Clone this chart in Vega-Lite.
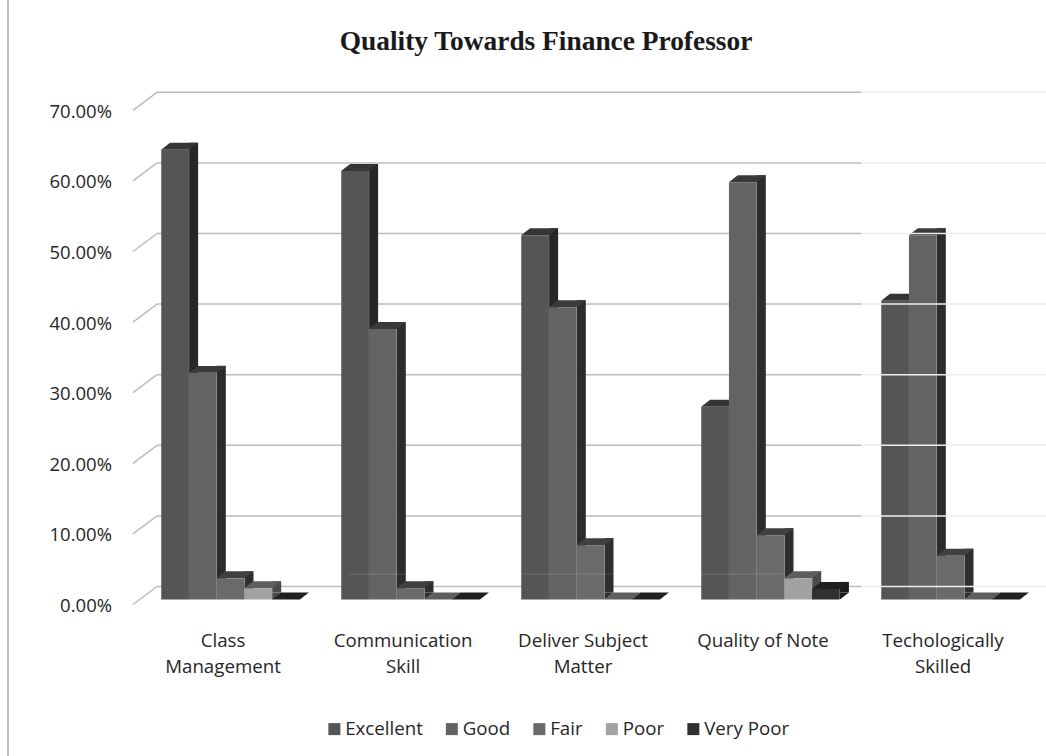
{
"$schema":"https://vega.github.io/schema/vega-lite/v6.json",
"width":900,"height":494.2,
"autosize":{"type":"none"},
"padding":{"left":140.5,"top":105.3,"right":5.5,"bottom":156.5},
"background":"white",
"title":{"text":"Quality Towards Finance Professor","font":"Liberation Serif","fontWeight":"bold","fontSize":27.4,"color":"#1a1a1a","anchor":"middle","dx":-44.5,"offset":-56},
"view":{"stroke":null},
"config":{"font":"Open Sans"},
"datasets":{
"grid":[{"v":0},{"v":10},{"v":20},{"v":30},{"v":40},{"v":50},{"v":60},{"v":70}],
"bars":[
{"c":"Class Management","s":"Excellent","value":63.7},{"c":"Class Management","s":"Good","value":32.1},{"c":"Class Management","s":"Fair","value":3.0},{"c":"Class Management","s":"Poor","value":1.6},{"c":"Class Management","s":"Very Poor","value":0},
{"c":"Communication Skill","s":"Excellent","value":60.7},{"c":"Communication Skill","s":"Good","value":38.3},{"c":"Communication Skill","s":"Fair","value":1.6},{"c":"Communication Skill","s":"Poor","value":0},{"c":"Communication Skill","s":"Very Poor","value":0},
{"c":"Deliver Subject Matter","s":"Excellent","value":51.6},{"c":"Deliver Subject Matter","s":"Good","value":41.4},{"c":"Deliver Subject Matter","s":"Fair","value":7.7},{"c":"Deliver Subject Matter","s":"Poor","value":0},{"c":"Deliver Subject Matter","s":"Very Poor","value":0},
{"c":"Quality of Note","s":"Excellent","value":27.3},{"c":"Quality of Note","s":"Good","value":59.1},{"c":"Quality of Note","s":"Fair","value":9.1},{"c":"Quality of Note","s":"Poor","value":3.0},{"c":"Quality of Note","s":"Very Poor","value":1.5},
{"c":"Techologically Skilled","s":"Excellent","value":42.3},{"c":"Techologically Skilled","s":"Good","value":51.6},{"c":"Techologically Skilled","s":"Fair","value":6.2},{"c":"Techologically Skilled","s":"Poor","value":0},{"c":"Techologically Skilled","s":"Very Poor","value":0}
]},
"resolve":{"scale":{"x":"independent"},"axis":{"x":"independent","y":"independent"}},
"layer":[
{"data":{"name":"grid"},
 "layer":[
 {"mark":{"type":"rule","color":"#bdbdbd","strokeWidth":2},
  "encoding":{"x":{"datum":-132.5,"type":"quantitative","scale":{"domain":[0,900],"nice":false,"zero":false},"axis":null},
   "y":{"datum":-22.2,"type":"quantitative","scale":{"domain":[0,70],"nice":false},"axis":null},"y2":{"datum":84.9}}},
 {"mark":{"type":"rule","color":"#bdbdbd","strokeWidth":1.5,"yOffset":-13},
  "encoding":{"x":{"datum":16.5,"type":"quantitative","scale":{"domain":[0,900],"nice":false,"zero":false},"axis":null},"x2":{"datum":721},
   "y":{"field":"v","type":"quantitative","scale":{"domain":[0,70],"nice":false},"axis":null}}},
 {"mark":{"type":"point","shape":"M-1 0.75L1 -0.75","size":576,"filled":false,"stroke":"#bdbdbd","strokeWidth":1.5,"opacity":1,"yOffset":-4},
  "encoding":{"x":{"datum":4.5,"type":"quantitative","scale":{"domain":[0,900],"nice":false,"zero":false},"axis":null},
   "y":{"field":"v","type":"quantitative","scale":{"domain":[0,70],"nice":false},"axis":null}}}
 ]},
{"data":{"name":"bars"},
 "resolve":{"scale":{"color":"independent","xOffset":"independent"},"axis":{"x":"independent","y":"independent"}},
 "layer":[
 {"mark":{"type":"rule","strokeWidth":9,"strokeCap":"butt","yOffset":-7,"y2Offset":-7},
  "encoding":{
   "x":{"field":"c","type":"nominal","sort":null,"scale":{"type":"band","paddingInner":0.2306,"paddingOuter":0.1153},"axis":null},
   "xOffset":{"field":"s","type":"nominal","sort":["Excellent","Good","Fair","Poor","Very Poor"],"scale":{"domain":["Excellent","Good","Fair","Poor","Very Poor"],"paddingInner":0,"paddingOuter":0,"range":[18.5,157]}},
   "y":{"field":"value","type":"quantitative","scale":{"domain":[0,70],"nice":false},"axis":null},
   "y2":{"datum":0},
   "color":{"field":"s","type":"nominal","legend":null,"scale":{"domain":["Excellent","Good","Fair","Poor","Very Poor"],"range":["#272727","#2c2c2c","#2e2e2e","#4a4a4a","#1b1b1b"]}}}},
 {"transform":[{"filter":"datum.value > 0"}],
  "mark":{"type":"point","shape":"M-1 0.778L-1 -0.778L1 -0.778Z","size":81,"filled":true,"opacity":1,"strokeWidth":0,"yOffset":-3.5},
  "encoding":{
   "x":{"field":"c","type":"nominal","sort":null,"scale":{"type":"band","paddingInner":0.2306,"paddingOuter":0.1153},"axis":null},
   "xOffset":{"field":"s","type":"nominal","sort":["Excellent","Good","Fair","Poor","Very Poor"],"scale":{"type":"point","padding":0,"domain":["Excellent","Good","Fair","Poor","Very Poor"],"range":[32.35,143.15]}},
   "y":{"datum":0,"type":"quantitative","scale":{"domain":[0,70],"nice":false},"axis":null},
   "color":{"field":"s","type":"nominal","legend":null,"scale":{"domain":["Excellent","Good","Fair","Poor","Very Poor"],"range":["#272727","#2c2c2c","#2e2e2e","#4a4a4a","#1b1b1b"]}}}},
 {"mark":{"type":"point","shape":"M-1 0.189L0.514 0.189L1 -0.189L-0.514 -0.189Z","size":1369,"filled":true,"opacity":1,"strokeWidth":0,"yOffset":-3.5},
  "encoding":{
   "x":{"field":"c","type":"nominal","sort":null,"scale":{"type":"band","paddingInner":0.2306,"paddingOuter":0.1153},"axis":null},
   "xOffset":{"field":"s","type":"nominal","sort":["Excellent","Good","Fair","Poor","Very Poor"],"scale":{"type":"point","padding":0,"domain":["Excellent","Good","Fair","Poor","Very Poor"],"range":[18.35,129.15]}},
   "y":{"field":"value","type":"quantitative","scale":{"domain":[0,70],"nice":false},"axis":null},
   "color":{"field":"s","type":"nominal","legend":null,"scale":{"domain":["Excellent","Good","Fair","Poor","Very Poor"],"range":["#353535","#3a3a3a","#404040","#5e5e5e","#202020"]}}}},
 {"mark":{"type":"bar"},
  "encoding":{
   "x":{"field":"c","type":"nominal","sort":null,"title":null,"scale":{"type":"band","paddingInner":0.2306,"paddingOuter":0.1153},
    "axis":{"domain":false,"ticks":false,"labelAngle":0,"labelFont":"Open Sans","labelFontSize":18.7,"labelColor":"#262626","labelPadding":32,"labelOffset":-7.5,"labelLineHeight":26,"labelLimit":300,"labelFlush":false,
     "labelExpr":"datum.label == 'Deliver Subject Matter' ? ['Deliver Subject','Matter'] : datum.label == 'Quality of Note' ? 'Quality of Note' : split(datum.label,' ')"}},
   "xOffset":{"field":"s","type":"nominal","sort":["Excellent","Good","Fair","Poor","Very Poor"],"scale":{"domain":["Excellent","Good","Fair","Poor","Very Poor"],"paddingInner":0,"paddingOuter":0}},
   "y":{"field":"value","type":"quantitative","title":null,"scale":{"domain":[0,70],"nice":false},
    "axis":{"domain":false,"ticks":false,"grid":false,"values":[0,10,20,30,40,50,60,70],"labelFont":"Open Sans","labelFontSize":18.5,"labelColor":"#262626","labelPadding":29,"labelOffset":6,"labelExpr":"format(datum.value,'.2f') + '%'"}},
   "color":{"field":"s","type":"nominal","scale":{"domain":["Excellent","Good","Fair","Poor","Very Poor"],"range":["#555555","#636363","#6a6a6a","#a2a2a2","#303030"]},
    "legend":{"title":null,"orient":"none","legendX":184.5,"legendY":614,"direction":"horizontal","columns":5,"symbolType":"square","symbolSize":144,"symbolStrokeWidth":0,"labelFont":"Open Sans","labelFontSize":18.7,"labelColor":"#262626","columnPadding":19.5,"labelOffset":1.5}}}}
 ]},
{"data":{"name":"grid"},
 "mark":{"type":"rule","color":"#eeeeee","strokeWidth":1.5,"yOffset":-13},
 "encoding":{"x":{"datum":721,"type":"quantitative","scale":{"domain":[0,900],"nice":false,"zero":false},"axis":null},"x2":{"datum":905.5},
   "y":{"field":"v","type":"quantitative","scale":{"domain":[0,70],"nice":false},"axis":null}}},
{"data":{"values":[{"v":3.6}]},
 "mark":{"type":"rule","color":"#ffffff","opacity":0.15,"strokeWidth":1},
 "encoding":{"x":{"datum":208.5,"type":"quantitative","scale":{"domain":[0,900],"nice":false,"zero":false},"axis":null},"x2":{"datum":642.5},
   "y":{"field":"v","type":"quantitative","scale":{"domain":[0,70],"nice":false},"axis":null}}}
]
}
